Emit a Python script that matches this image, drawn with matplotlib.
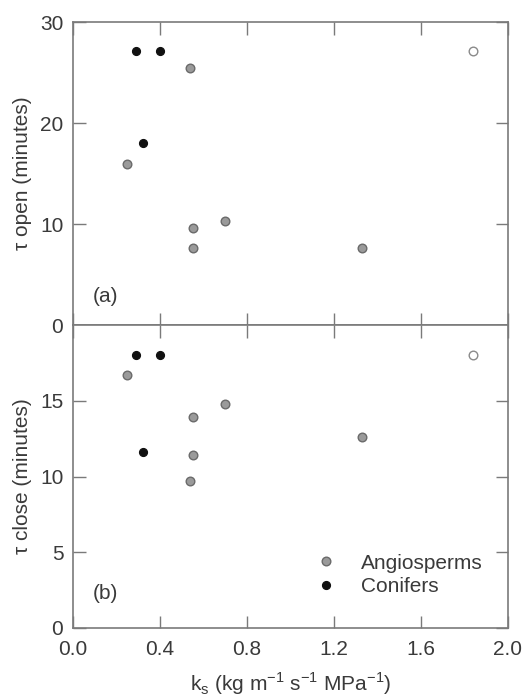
import matplotlib
matplotlib.use("Agg")
import matplotlib.pyplot as plt

plt.rcParams["font.family"] = ["Liberation Sans", "DejaVu Sans"]

# (a) tau open
angio_ks_a = [0.25, 0.539, 0.55, 0.55, 0.70, 1.33]
angio_tau_open = [15.9, 25.4, 9.6, 7.65, 10.3, 7.65]
conif_ks_a = [0.29, 0.40, 0.322]
conif_tau_open = [27.1, 27.1, 18.0]
open_ks = [1.838]
open_tau_open = [27.1]

# (b) tau close
angio_ks_b = [0.25, 0.539, 0.55, 0.55, 0.70, 1.33]
angio_tau_close = [16.7, 9.7, 13.9, 11.4, 14.8, 12.6]
conif_ks_b = [0.29, 0.40, 0.322]
conif_tau_close = [18.0, 18.0, 11.6]
open_tau_close = [18.0]

x_ticks = [0.0, 0.4, 0.8, 1.2, 1.6, 2.0]

spine_c = "#7a7a7a"
text_c = "#3a3a3a"
angio_fc = "#9a9a9a"
angio_ec = "#6a6a6a"
conif_c = "#111111"

fig = plt.figure(figsize=(5.22, 6.97), dpi=100)
ax1 = fig.add_axes([0.140, 0.5337, 0.833, 0.4347])
ax2 = fig.add_axes([0.140, 0.099, 0.833, 0.4347])


def style(ax):
    for s in ax.spines.values():
        s.set_color(spine_c)
        s.set_linewidth(1.2)
    ax.tick_params(direction="in", length=9, width=1.0, color=spine_c,
                   top=True, right=True, labelsize=15, labelcolor=text_c)
    ax.tick_params(axis="y", pad=7)
    ax.tick_params(axis="x", pad=9)
    ax.set_xlim(0, 2.0)
    ax.set_xticks(x_ticks)


ms = 6.2
# top panel
ax1.plot(angio_ks_a, angio_tau_open, "o", ms=ms, mfc=angio_fc, mec=angio_ec, mew=1.0)
ax1.plot(conif_ks_a, conif_tau_open, "o", ms=ms - 0.6, mfc=conif_c, mec=conif_c)
ax1.plot(open_ks, open_tau_open, "o", ms=ms, mfc="white", mec="#8a8a8a", mew=1.0)
style(ax1)
ax1.set_ylim(0, 30)
ax1.set_yticks([0, 10, 20, 30])
ax1.tick_params(labelbottom=False)
ax1.set_ylabel("τ open (minutes)", fontsize=15, color=text_c, labelpad=6)
ax1.text(0.045, 0.095, "(a)", transform=ax1.transAxes, fontsize=15, color=text_c,
         va="center")

# bottom panel
ax2.plot(angio_ks_b, angio_tau_close, "o", ms=ms, mfc=angio_fc, mec=angio_ec, mew=1.0,
         label="Angiosperms")
ax2.plot(conif_ks_b, conif_tau_close, "o", ms=ms - 0.6, mfc=conif_c, mec=conif_c,
         label="Conifers")
ax2.plot(open_ks, open_tau_close, "o", ms=ms, mfc="white", mec="#8a8a8a", mew=1.0)
style(ax2)
ax2.set_ylim(0, 20)
ax2.set_yticks([0, 5, 10, 15])
ax2.set_xticklabels([f"{v:.1f}" for v in x_ticks])
ax2.set_ylabel("τ close (minutes)", fontsize=15, color=text_c, labelpad=6)
ax2.set_xlabel("k$_\\mathregular{s}$ (kg m$^\\mathregular{-1}$ s$^\\mathregular{-1}$ MPa$^\\mathregular{-1}$)",
               fontsize=15, color=text_c, labelpad=8)
ax2.text(0.045, 0.115, "(b)", transform=ax2.transAxes, fontsize=15, color=text_c,
         va="center")
leg = ax2.legend(loc="lower left", bbox_to_anchor=(0.515, 0.044), frameon=False,
                 fontsize=15, handletextpad=1.15, labelspacing=0.2, handlelength=1.0,
                 labelcolor=text_c)

fig.savefig("out.png", dpi=100)
